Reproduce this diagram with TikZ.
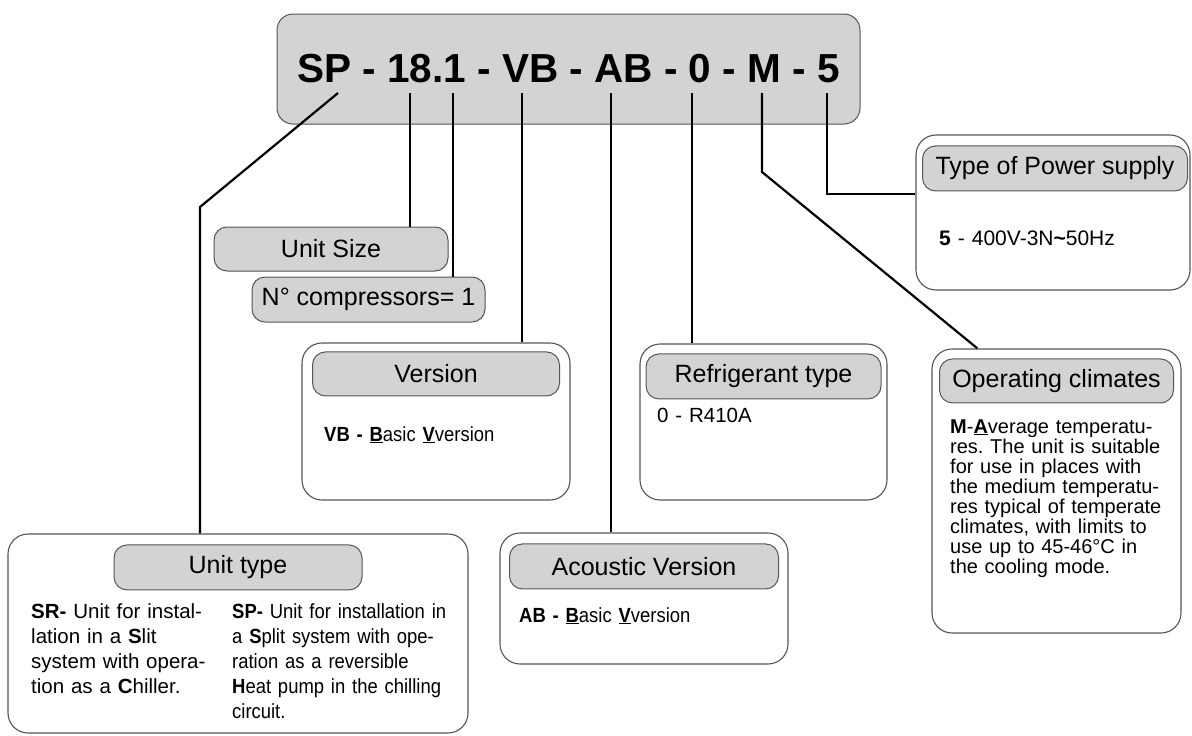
\documentclass[tikz,border=0pt]{standalone}
\usepackage{fontspec}
\setmainfont{Liberation Sans}
\newfontfamily\condfont{Liberation Sans}[FakeStretch=0.9]
\usetikzlibrary{positioning}
\definecolor{capgray}{RGB}{211,211,213}
\definecolor{edgegray}{RGB}{85,85,85}
\frenchspacing

\begin{document}
\begin{tikzpicture}[
        x=1pt, y=-1pt,
        codebox/.style={rectangle, rounded corners=16pt, draw=edgegray, line width=1pt, fill=capgray, inner sep=0pt, font=\fontsize{40.5}{40.5}\selectfont\bfseries},
        panel/.style={rectangle, rounded corners=20pt, draw=edgegray, line width=1.1pt, fill=white},
        caption/.style={rectangle, rounded corners=13pt, draw=edgegray, line width=1pt, fill=capgray, inner sep=0pt, font=\fontsize{25}{25}\selectfont},
        body/.style={anchor=base west, inner sep=0pt, align=left, text width=260pt, font=\fontsize{20.5}{25}\selectfont},
        condbody/.style={body, font=\condfont\fontsize{20.5}{25}\selectfont},
        conn/.style={line width=2.2pt, black},
        ]
        \useasboundingbox (0,0) rectangle (1192,736);

        % Model code (top)
        \node[codebox, minimum width=583pt, minimum height=110pt] (code) at (568.5,69) {SP - 18.1 - VB - AB - 0 - M - 5};

        % Outer panels
        \node[panel, minimum width=460pt, minimum height=199pt] (typebox) at (238,633.5) {};
        \node[panel, minimum width=268pt, minimum height=157pt] (verbox) at (436,421.5) {};
        \node[panel, minimum width=247pt, minimum height=156pt] (refbox) at (763.5,422) {};
        \node[panel, minimum width=288pt, minimum height=131pt] (acbox) at (644,598.5) {};
        \node[panel, minimum width=274pt, minimum height=155pt] (powbox) at (1053,212.5) {};
        \node[panel, minimum width=249pt, minimum height=284pt] (climbox) at (1056.5,491) {};

        % Captions
        \node[caption, minimum width=234pt, minimum height=44pt] (sizehdr) at (331,249) {Unit Size};
        \node[caption, minimum width=233pt, minimum height=45pt] (comphdr) at (368.5,299.5) {N° compressors= 1};
        \node[caption, minimum width=248pt, minimum height=45pt, below=11pt of typebox.north] (typehdr) {Unit type};
        \node[caption, minimum width=247pt, minimum height=44pt, below=9pt of verbox.north] (verhdr) {Version};
        \node[caption, minimum width=235pt, minimum height=45pt, below=10pt of refbox.north] (refhdr) {Refrigerant type};
        \node[caption, minimum width=269pt, minimum height=45pt, below=11pt of acbox.north] (achdr) {Acoustic Version};
        \node[caption, minimum width=265pt, minimum height=45pt, below=11pt of powbox.north, xshift=2pt] (powhdr) {Type of Power supply};
        \node[caption, minimum width=234pt, minimum height=44pt, below=10pt of climbox.north] (climhdr) {Operating climates};

        % Panel texts
        \node[body] (srtext) at (31,618) {\textbf{SR-} Unit for instal-\\lation in a \textbf{S}lit\\system with opera-\\tion as a \textbf{C}hiller.};
        \node[condbody] (sptext) at (232,618) {\textbf{SP-} Unit for installation in\\a \textbf{S}plit system with ope-\\ration as a reversible\\\textbf{H}eat pump in the chilling\\circuit.};
        \node[condbody] (vertext) at (324,441) {\textbf{VB - \underline{B}}asic \textbf{\underline{V}}version};
        \node[condbody] (actext) at (519,622) {\textbf{AB - \underline{B}}asic \textbf{\underline{V}}version};
        \node[body] (reftext) at (657,422) {0 - R410A};
        \node[body, font=\fontsize{21}{25}\selectfont] (powtext) at (939,245) {\textbf{5} - 400V-3N\textbf{\textasciitilde}50Hz};
        \node[body, font=\fontsize{20}{20}\selectfont] (climtext) at (950,433) {\textbf{M}-\textbf{\underline{A}}verage temperatu-\\res. The unit is suitable\\for use in places with\\the medium temperatu-\\res typical of temperate\\climates, with limits to\\use up to 45-46°C in\\the cooling mode.};

        % Leader points under the code
        \coordinate (sp) at (338,93);
        \coordinate (spbend) at (200,207);
        \coordinate (size) at (410,93);
        \coordinate (comp) at (453,93);
        \coordinate (ver) at (522,93);
        \coordinate (ac) at (611,93);
        \coordinate (ref) at (692,93);
        \coordinate (clim) at (762,93);
        \coordinate (climbend) at (762,172);
        \coordinate (pow) at (827,93);
        \coordinate (powbend) at (827,194);

        % Leaders
        \draw[conn] (sp) -- (spbend) -- (spbend |- typebox.north);
        \draw[conn] (size) -- (size |- sizehdr.north);
        \draw[conn] (comp) -- (comp |- comphdr.north);
        \draw[conn] (ver) -- (ver |- verbox.north);
        \draw[conn] (ac) -- (ac |- acbox.north);
        \draw[conn] (ref) -- (ref |- refbox.north);
        \draw[conn] (clim) -- (climbend) -- ([xshift=46pt]climbox.north west);
        \draw[conn] (pow) -- (powbend) -- (powbend -| powbox.west);

    \end{tikzpicture}
\end{document}
